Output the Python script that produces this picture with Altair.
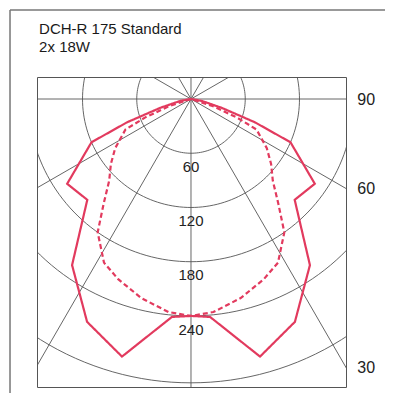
import altair as alt
import pandas as pd

title_lines = ["DCH-R 175 Standard", "2x 18W"]
ring_values = [60, 120, 180, 240, 314]
ring_labels = [60, 120, 180, 240]
spoke_angles = [0, 30, 60, 90, 120, 150]
edge_labels = [90, 60, 30]

# luminous intensity (angle from nadir in degrees, value)
solid_angles = [0, 5, 15, 25, 35.6, 45.8, 55.6, 66.5, 70, 74, 80, 90]
solid_values = [240, 242, 295, 272, 226, 160, 166, 120, 75, 35, 12, 0]
dashed_angles = [0, 6, 14, 22, 28, 35, 40, 45, 51, 57, 65, 68, 72, 90]
dashed_values = [240, 237, 227, 215, 205, 180, 150, 128, 114, 100, 80, 55, 25, 0]

RED = "#e23a5e"
GRID = "#555555"
FONT = "Liberation Sans"


def curve_rows(name, angles, values):
    rows = []
    for a, v in zip(angles, values):
        rows.append({"curve": name, "a": a, "v": v})
        if a != 0:
            rows.append({"curve": name, "a": -a, "v": v})
    return rows


curves = pd.DataFrame(curve_rows("C0-C180", solid_angles, solid_values)
                      + curve_rows("C90-C270", dashed_angles, dashed_values))

xs = alt.Scale(domain=[-170.35, 171.46], nice=False, zero=False)
ys = alt.Scale(domain=[-318.6, 24.34], nice=False, zero=False)


def X(f="x"):
    return alt.X(f"{f}:Q", scale=xs, axis=None)


def Y(f="y"):
    return alt.Y(f"{f}:Q", scale=ys, axis=None)


circles = (
    alt.Chart(pd.DataFrame({"r": ring_values}))
    .transform_calculate(t="sequence(0, 362, 2)")
    .transform_flatten(["t"])
    .transform_calculate(x="datum.r*sin(datum.t*PI/180)", y="-datum.r*cos(datum.t*PI/180)")
    .mark_line(clip=True, color=GRID, strokeWidth=0.9)
    .encode(x=X(), y=Y(), detail="r:N", order="t:Q")
)

spokes = (
    alt.Chart(pd.DataFrame({"a": spoke_angles}))
    .transform_calculate(
        x="600*sin(datum.a*PI/180)", y="-600*cos(datum.a*PI/180)",
        x2="-600*sin(datum.a*PI/180)", y2="600*cos(datum.a*PI/180)")
    .mark_rule(clip=True, color=GRID, strokeWidth=0.9)
    .encode(x=X(), y=Y(), x2="x2:Q", y2="y2:Q")
)

lines = (
    alt.Chart(curves)
    .transform_calculate(x="datum.v*sin(datum.a*PI/180)", y="-datum.v*cos(datum.a*PI/180)")
    .mark_line(color=RED, strokeWidth=2.2, clip=True)
    .encode(
        x=X(), y=Y(), detail="curve:N", order="a:Q",
        strokeDash=alt.StrokeDash("curve:N", scale=alt.Scale(domain=["C0-C180", "C90-C270"], range=[[1, 0], [5, 3]]), legend=None),
    )
)

ring_text = (
    alt.Chart(pd.DataFrame({"r": ring_labels}))
    .transform_calculate(x="0", y="-(datum.r + 15)")
    .mark_text(font=FONT, fontSize=15, color="#222", baseline="middle", align="center")
    .encode(x=X(), y=Y(), text="r:Q")
)

edge_text = (
    alt.Chart(pd.DataFrame({"a": edge_labels}))
    .transform_calculate(x="184", y="-171.46*cos(datum.a*PI/180)/sin(datum.a*PI/180)")
    .mark_text(font=FONT, fontSize=16, color="#222", baseline="middle", align="left", dy=1)
    .encode(x=X(), y=Y(), text="a:Q")
)

title_text = (
    alt.Chart(pd.DataFrame({"t": ["\n".join(title_lines)]}))
    .transform_calculate(x="-168", y="71.9")
    .mark_text(font=FONT, fontSize=15, color="#1a1a1a", baseline="alphabetic", align="left",
               lineBreak="\n", lineHeight=17.5)
    .encode(x=X(), y=Y(), text="t:N")
)

border_top = (
    alt.Chart(pd.DataFrame({"x": [-200.2], "x2": [1000], "y": [98.5]}))
    .mark_rule(color="#777", strokeWidth=1.5)
    .encode(x=X(), x2="x2:Q", y=Y())
)
border_left = (
    alt.Chart(pd.DataFrame({"x": [-200.2], "y": [98.5], "y2": [-1000]}))
    .mark_rule(color="#777", strokeWidth=1.5)
    .encode(x=X(), y=Y(), y2="y2:Q")
)

chart = (
    alt.layer(border_top, border_left, circles, spokes, lines, ring_text, edge_text, title_text)
    .properties(width=309, height=310, autosize=alt.AutoSizeParams(type="none"),
                padding={"left": 29, "top": 69, "right": 39, "bottom": 6})
    .configure_view(stroke="#555", strokeWidth=1)
)

chart.save("out.html", embed_options={"renderer": "svg", "actions": False})
